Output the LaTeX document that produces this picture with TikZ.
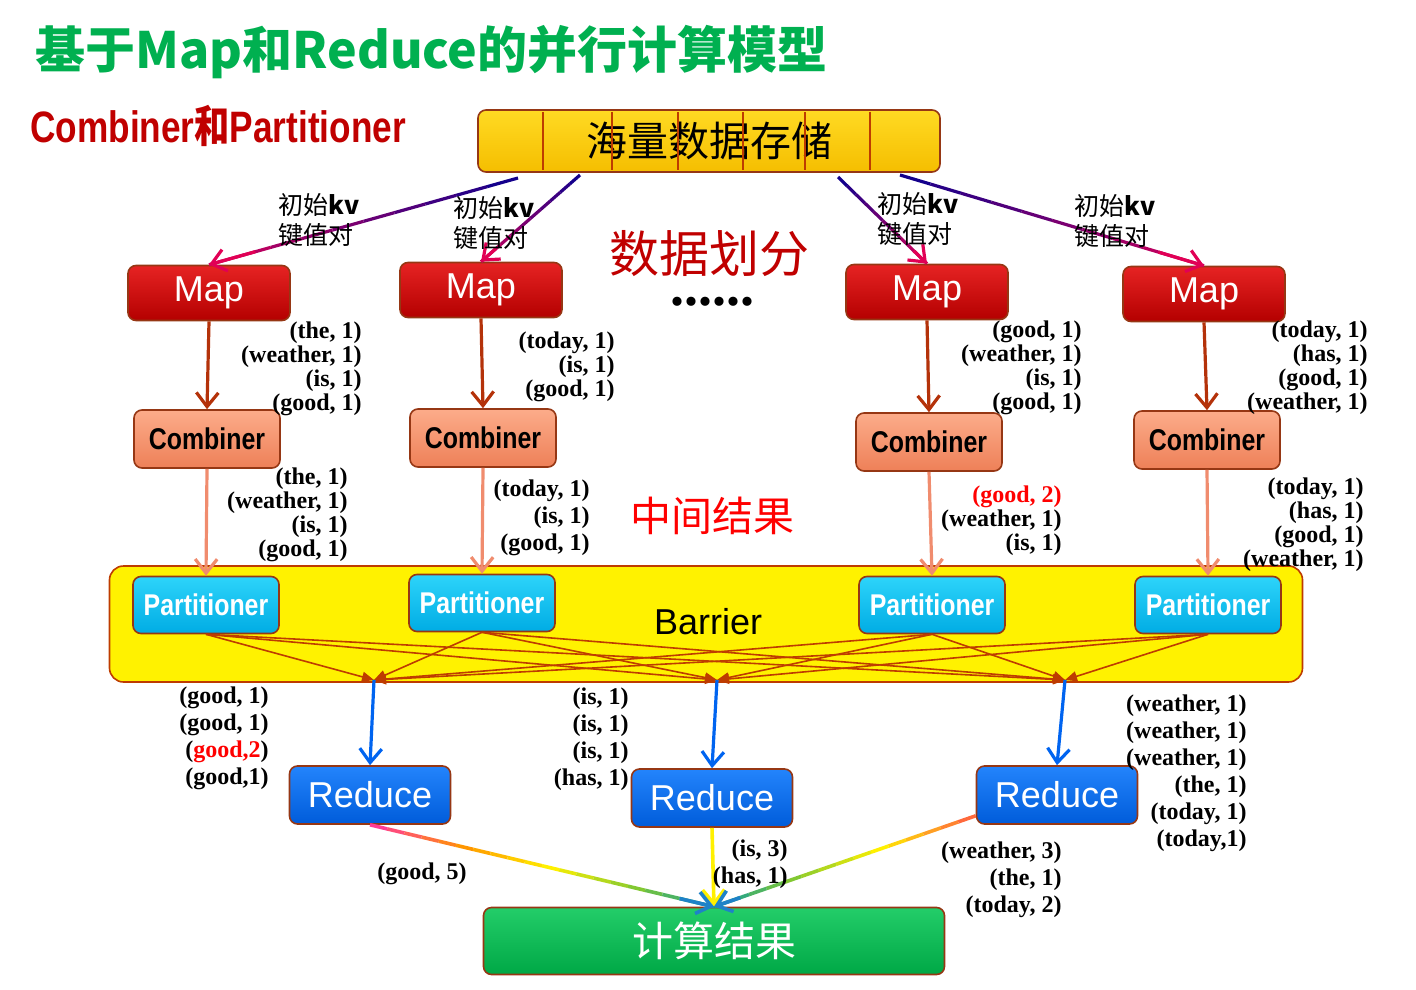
\documentclass[tikz,border=0pt]{standalone}
\usepackage{fontspec}
\setmainfont{Liberation Serif}
\setsansfont{Liberation Sans}
\newfontfamily\cjk{Noto Sans CJK SC}
\usetikzlibrary{arrows.meta,calc}

\definecolor{titlegreen}{RGB}{0,176,80}
\definecolor{headred}{RGB}{192,0,0}
\definecolor{hotred}{RGB}{255,0,0}
\definecolor{boxedge}{RGB}{150,55,20}
\definecolor{maptop}{RGB}{230,35,35}
\definecolor{mapbot}{RGB}{180,0,0}
\definecolor{combtop}{RGB}{252,172,138}
\definecolor{combbot}{RGB}{238,128,88}
\definecolor{parttop}{RGB}{45,212,250}
\definecolor{partbot}{RGB}{0,172,228}
\definecolor{redtop}{RGB}{35,132,252}
\definecolor{redbot}{RGB}{0,92,218}
\definecolor{restop}{RGB}{35,205,105}
\definecolor{resbot}{RGB}{0,168,70}
\definecolor{storetop}{RGB}{255,218,35}
\definecolor{storebot}{RGB}{245,190,0}
\definecolor{kvblue}{RGB}{20,0,140}
\definecolor{kvpink}{RGB}{225,0,85}
\definecolor{maparrow}{RGB}{180,50,10}
\definecolor{combarrow}{RGB}{240,140,110}
\definecolor{linebrown}{RGB}{190,60,0}
\definecolor{bluearrow}{RGB}{0,100,240}
\definecolor{rbA}{RGB}{255,60,150}
\definecolor{rbB}{RGB}{255,150,0}
\definecolor{rbC}{RGB}{255,240,0}
\definecolor{rbD}{RGB}{130,200,50}
\definecolor{rbE}{RGB}{0,150,170}
\definecolor{rbO}{RGB}{255,105,60}
\definecolor{tiptea}{RGB}{30,130,200}

\begin{document}
\begin{tikzpicture}[x=0.5pt,y=-0.5pt,
  box/.style={draw=boxedge, line width=0.8pt, rounded corners=4pt, inner sep=0pt},
  mapbox/.style={box, top color=maptop, bottom color=mapbot, text=white,
    minimum width=81pt, minimum height=27.5pt, font=\sffamily\fontsize{18}{18}\selectfont},
  combbox/.style={box, top color=combtop, bottom color=combbot, text=black,
    minimum width=73pt, minimum height=29pt, font=\sffamily\bfseries\fontsize{15}{15}\selectfont},
  partbox/.style={box, top color=parttop, bottom color=partbot, text=white,
    minimum width=73pt, minimum height=28.5pt, font=\sffamily\bfseries\fontsize{15}{15}\selectfont},
  redbox/.style={box, top color=redtop, bottom color=redbot, text=white,
    minimum width=80.5pt, minimum height=29pt, font=\sffamily\fontsize{18}{18}\selectfont},
  kvlist/.style={font=\bfseries\fontsize{12}{12}\selectfont, align=right, anchor=north east, inner sep=0pt},
  kvlistb/.style={kvlist, font=\bfseries\fontsize{12}{13.5}\selectfont},
  kvnote/.style={font=\cjk\fontsize{12.5}{15}\selectfont, align=left, anchor=north west, inner sep=0pt},
  maparr/.style={draw=maparrow, line width=1.6pt, -{Straight Barb[length=7pt,width=11pt]}},
  combarr/.style={draw=combarrow, line width=1.6pt, -{Straight Barb[length=7pt,width=11pt]}},
  bluearr/.style={draw=bluearrow, line width=1.6pt, -{Straight Barb[length=7pt,width=11pt]}},
  crossline/.style={draw=linebrown, line width=0.8pt, -{Triangle[length=6pt,width=5pt]}}]
\useasboundingbox (0,0) rectangle (1416,989);

% titles
\node[anchor=west, inner sep=0pt, text=titlegreen, font=\cjk\bfseries\fontsize{25}{25}\selectfont] (title) at (35,52) {基于Map和Reduce的并行计算模型};
\node[anchor=west, inner sep=0pt, text=headred] (subtitle) at (30,126)
  {\scalebox{0.8}[1]{\fontsize{22}{22}\selectfont\sffamily\bfseries Combiner{\cjk\bfseries 和}Partitioner}};

% storage
\node[box, top color=storetop, bottom color=storebot, minimum width=231pt, minimum height=31pt,
  font=\cjk\fontsize{20.5}{20.5}\selectfont] (store) at (709,141) {海量数据存储};
\foreach \x in {543,612,678,743,805,870}
  \draw[linebrown, line width=0.7pt] (\x,112) -- (\x,170);

% maps
\node[mapbox] (map1) at (209,293) {Map};
\node[mapbox] (map2) at (481,290) {Map};
\node[mapbox] (map3) at (927,292) {Map};
\node[mapbox] (map4) at (1204,294) {Map};

\coordinate (s1) at (518,178);
\coordinate (s2) at (580,175);
\coordinate (s3) at (838,177);
\coordinate (s4) at (900,175);
\foreach \s/\m in {s1/map1, s2/map2, s3/map3, s4/map4}{
  \foreach \i in {0,...,9}{
    \pgfmathtruncatemacro{\pct}{\i*10}
    \colorlet{segcol}{kvpink!\pct!kvblue}
    \draw[draw=segcol, line width=1.6pt] ($(\s)!{\i/10}!(\m.north)$) -- ($(\s)!{(\i+1)/10}!(\m.north)$);
  }
  \draw[draw=kvpink, line width=1.6pt, -{Straight Barb[length=7pt,width=11pt]}] ($(\s)!0.85!(\m.north)$) -- (\m.north);
}

\node[kvnote] (note1) at (278,193) {初始{\bfseries kv}\\键值对};
\node[kvnote] (note2) at (453,196) {初始{\bfseries kv}\\键值对};
\node[kvnote] (note3) at (877,192) {初始{\bfseries kv}\\键值对};
\node[kvnote] (note4) at (1074,194) {初始{\bfseries kv}\\键值对};

\node[text=headred, font=\cjk\fontsize{25}{25}\selectfont, inner sep=0pt] (split) at (709,254) {数据划分};
\node[anchor=base, inner sep=0pt, text height=3pt, text depth=0pt, font=\bfseries\fontsize{28}{28}\selectfont] (dots) at (712,306) {......};
\node[text=hotred, font=\cjk\fontsize{20.5}{20.5}\selectfont] (middle) at (712,516) {中间结果};

% combiners
\node[combbox] (comb1) at (207,439) {\scalebox{0.83}[1]{Combiner}};
\node[combbox] (comb2) at (483,438) {\scalebox{0.83}[1]{Combiner}};
\node[combbox] (comb3) at (929,442) {\scalebox{0.83}[1]{Combiner}};
\node[combbox] (comb4) at (1207,440) {\scalebox{0.83}[1]{Combiner}};
\foreach \i in {1,...,4}
  \draw[maparr] (map\i.south) -- (comb\i.north);

\node[kvlist] (out1) at (362,321) {(the, 1)\\(weather, 1)\\(is, 1)\\(good, 1)};
\node[kvlist] (out2) at (615,331) {(today, 1)\\(is, 1)\\(good, 1)};
\node[kvlist] (out3) at (1082,320) {(good, 1)\\(weather, 1)\\(is, 1)\\(good, 1)};
\node[kvlist] (out4) at (1368,320) {(today, 1)\\(has, 1)\\(good, 1)\\(weather, 1)};

% barrier and partitioners
\node[draw=linebrown, fill=yellow, line width=0.8pt, rounded corners=7pt, minimum width=596.5pt,
  minimum height=58pt] (barrier) at (706,624) {};
\node[font=\sffamily\fontsize{18}{18}\selectfont] (barlabel) at (708,622) {Barrier};
\node[partbox] (part1) at (206,605) {\scalebox{0.83}[1]{Partitioner}};
\node[partbox] (part2) at (482,603) {\scalebox{0.83}[1]{Partitioner}};
\node[partbox] (part3) at (932,605) {\scalebox{0.83}[1]{Partitioner}};
\node[partbox] (part4) at (1208,605) {\scalebox{0.83}[1]{Partitioner}};
\foreach \i in {1,...,4}
  \draw[combarr] (comb\i.south) -- (part\i.north);

\node[kvlist] (cout1) at (348,467) {(the, 1)\\(weather, 1)\\(is, 1)\\(good, 1)};
\node[kvlistb] (cout2) at (590,479) {(today, 1)\\(is, 1)\\(good, 1)};
\node[kvlist] (cout3) at (1062,485) {{\color{hotred}(good, 2)}\\(weather, 1)\\(is, 1)};
\node[kvlist] (cout4) at (1364,477) {(today, 1)\\(has, 1)\\(good, 1)\\(weather, 1)};

\coordinate (m1) at (374,680);
\coordinate (m2) at (717,680);
\coordinate (m3) at (1065,680);
\foreach \p in {part1,part2,part3,part4}
  \foreach \m in {m1,m2,m3}
    \draw[crossline] (\p.south) -- (\m);

% reducers
\node[redbox] (red1) at (370,795) {Reduce};
\node[redbox] (red2) at (712,798) {Reduce};
\node[redbox] (red3) at (1057,795) {Reduce};
\foreach \m/\r in {m1/red1, m2/red2, m3/red3}
  \draw[bluearr] (\m) -- (\r.north);

\node[kvlistb] (rin1) at (269,686) {(good, 1)\\(good, 1)\\(\textcolor{hotred}{good,2})\\(good,1)};
\node[kvlistb] (rin2) at (629,687) {(is, 1)\\(is, 1)\\(is, 1)\\(has, 1)};
\node[kvlistb] (rin3) at (1247,694) {(weather, 1)\\(weather, 1)\\(weather, 1)\\(the, 1)\\(today, 1)\\(today,1)};

% result
\node[box, top color=restop, bottom color=resbot, text=white, minimum width=230.5pt, minimum height=33.5pt,
  font=\cjk\fontsize{20.5}{20.5}\selectfont] (result) at (714,941) {计算结果};

\coordinate (r3out) at ($(red3.south west)+(0,-9)$);
\foreach \ca/\cb/\k in {rbA/rbB/0, rbB/rbC/1, rbC/rbD/2, rbD/rbE/3}{
  \foreach \j in {0,...,4}{
    \pgfmathtruncatemacro{\pct}{\j*20}
    \colorlet{segcol}{\cb!\pct!\ca}
    \draw[draw=segcol, line width=1.8pt] ($(red1.south)!{(\k*5+\j)/20}!(result.north)$) -- ($(red1.south)!{(\k*5+\j+1)/20}!(result.north)$);
  }
}
\foreach \ca/\cb/\k in {rbO/rbC/0, rbC/rbD/1, rbD/rbE/2}{
  \foreach \j in {0,...,4}{
    \pgfmathtruncatemacro{\pct}{\j*20}
    \colorlet{segcol}{\cb!\pct!\ca}
    \draw[draw=segcol, line width=1.8pt] ($(r3out)!{(\k*5+\j)/15}!(result.north)$) -- ($(r3out)!{(\k*5+\j+1)/15}!(result.north)$);
  }
}
\draw[draw=rbC, line width=1.8pt, -{Straight Barb[length=7pt,width=11pt]}] (red2.south) -- (result.north);
\draw[draw=tiptea, line width=1.8pt, -{Straight Barb[length=7pt,width=11pt]}] ($(red1.south)!0.9!(result.north)$) -- (result.north);
\draw[draw=tiptea, line width=1.8pt, -{Straight Barb[length=7pt,width=11pt]}] ($(r3out)!0.9!(result.north)$) -- (result.north);

\node[font=\bfseries\fontsize{12}{12}\selectfont, inner sep=0pt] (fin1) at (422,874) {(good, 5)};
\node[kvlistb] (fin2) at (788,839) {(is, 3)\\(has, 1)};
\node[kvlistb] (fin3) at (1062,841) {(weather, 3)\\(the, 1)\\(today, 2)};
\end{tikzpicture}
\end{document}
